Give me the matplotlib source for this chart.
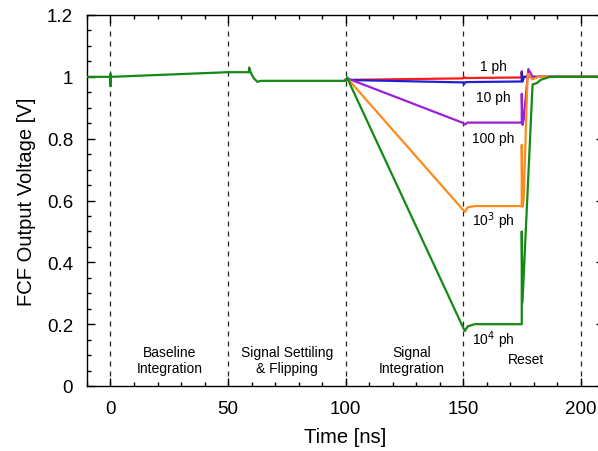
import matplotlib
matplotlib.use("Agg")
import matplotlib.pyplot as plt
from matplotlib.ticker import MultipleLocator

plt.rcParams['font.family'] = ['Liberation Sans', 'DejaVu Sans']

# ---- data ----
t_green = [-10, 0, 0, 0, 0.3, 50, 59, 59, 59.6, 61, 62.5, 64, 100, 100.8, 102,
           150, 150.8, 152, 155, 175, 175, 175.3, 179.6, 181.5, 183, 187, 210]
v_green = [1.0, 1.0, 0.97, 1.01, 1.0, 1.015, 1.015, 1.03, 1.015, 0.995, 0.984,
           0.987, 0.987, 0.998, 0.975, 0.19, 0.178, 0.193, 0.2, 0.2, 0.5, 0.27,
           0.975, 0.98, 0.99, 1.0, 1.0]

t_orange = [100, 100.8, 150, 150.8, 152, 155, 175, 175, 175.3, 175.8, 177.5,
            179.5, 182, 210]
v_orange = [0.99, 0.995, 0.57, 0.563, 0.578, 0.582, 0.582, 0.78, 0.58, 0.6,
            1.01, 0.992, 1.0, 1.0]

t_purple = [100, 100.8, 150, 150.8, 152, 175, 175, 175.3, 175.8, 177.8, 180,
            182, 210]
v_purple = [0.99, 0.995, 0.851, 0.846, 0.852, 0.852, 0.945, 0.845, 0.86,
            1.025, 0.995, 1.0, 1.0]

t_blue = [100, 150, 150.4, 151, 175, 175, 175.3, 176, 210]
v_blue = [0.99, 0.982, 0.976, 0.983, 0.985, 1.015, 0.985, 1.0, 1.0]

t_red = [100, 150, 150.3, 151, 175, 175, 175.3, 176, 210]
v_red = [0.99, 0.995, 1.0, 0.996, 0.998, 1.018, 0.99, 1.0, 1.0]

phase_bounds = [0, 50, 100, 150, 200]
phase_labels = ["Baseline\nIntegration", "Signal Settiling\n& Flipping",
                "Signal\nIntegration", "Reset"]
phase_label_x = [25, 75, 128.3, 177]
phase_label_y = [0.084, 0.084, 0.084, 0.087]

curve_labels = ["1 ph", "10 ph", "100 ph", "10$^3$ ph", "10$^4$ ph"]
curve_label_pos = [(163, 1.036), (163, 0.936), (163, 0.801), (163, 0.535),
                   (163, 0.152)]

xticks = [0, 50, 100, 150, 200]
yticks = [0, 0.2, 0.4, 0.6, 0.8, 1.0, 1.2]
ytick_labels = ["0", "0.2", "0.4", "0.6", "0.8", "1", "1.2"]

# ---- figure ----
fig = plt.figure(figsize=(5.98, 4.52), dpi=100)
ax = fig.add_axes([87 / 598, 65 / 452, 517 / 598, 371 / 452])

for xb in phase_bounds:
    ax.axvline(xb, color='#222222', ls=(0, (4, 4)), lw=0.9, zorder=1)

lw = 1.6
ax.plot(t_red, v_red, color='#ff1a1a', lw=lw, zorder=2)
ax.plot(t_blue, v_blue, color='#1f1fd6', lw=lw, zorder=3)
ax.plot(t_purple, v_purple, color='#9b1fd8', lw=lw, zorder=4)
ax.plot(t_orange, v_orange, color='#ff8a1c', lw=lw, zorder=5)
ax.plot(t_green, v_green, color='#138a13', lw=lw, zorder=6)

for lab, (x, y) in zip(curve_labels, curve_label_pos):
    ax.text(x, y, lab, ha='center', va='center', fontsize=10)
for lab, x, y in zip(phase_labels, phase_label_x, phase_label_y):
    ax.text(x, y, lab, ha='center', va='center', fontsize=10,
            linespacing=1.1)

ax.set_xlim(-10, 210)
ax.set_ylim(0, 1.2)
ax.set_xticks(xticks)
ax.set_yticks(yticks)
ax.set_yticklabels(ytick_labels)
ax.xaxis.set_minor_locator(MultipleLocator(10))
ax.yaxis.set_minor_locator(MultipleLocator(0.05))
ax.tick_params(which='both', direction='in', top=True, right=True,
               labelsize=13.5, width=1)
ax.tick_params(which='major', length=6)
ax.tick_params(which='minor', length=3)
ax.tick_params(axis='x', pad=10)
ax.tick_params(axis='y', pad=10)
ax.set_xlabel("Time [ns]", fontsize=14.5, labelpad=7)
ax.set_ylabel("FCF Output Voltage [V]", fontsize=14.5, labelpad=8)
for s in ax.spines.values():
    s.set_linewidth(1)

fig.savefig("out.png", dpi=100)
